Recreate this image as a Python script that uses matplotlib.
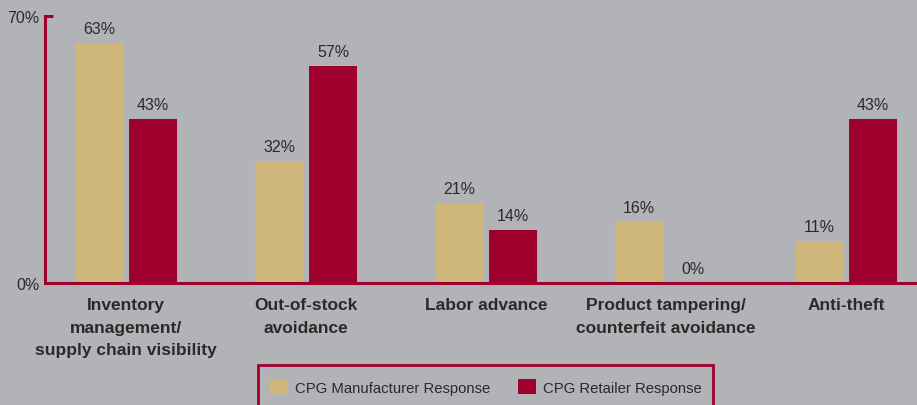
import matplotlib.pyplot as plt
from matplotlib.patches import Rectangle
import numpy as np

categories = ['Inventory\nmanagement/\nsupply chain visibility',
              'Out-of-stock\navoidance',
              'Labor advance',
              'Product tampering/\ncounterfeit avoidance',
              'Anti-theft']
manufacturer = [63, 32, 21, 16, 11]
retailer = [43, 57, 14, 0, 43]
series_names = ['CPG Manufacturer Response', 'CPG Retailer Response']

bg = '#b2b3b7'
tan = '#cfb77b'
red = '#a0002e'
txt = '#2a2a2a'

fig = plt.figure(figsize=(9.17, 4.06), dpi=100, facecolor=bg)
ax = fig.add_axes([45/917, 122/406, 872/917, 267/406])
ax.set_facecolor(bg)

x = np.arange(len(categories))
w = 0.267
off = 0.15
b1 = ax.bar(x - off, manufacturer, w, color=tan, label=series_names[0])
b2 = ax.bar(x + off, retailer, w, color=red, label=series_names[1])

for bars, vals in ((b1, manufacturer), (b2, retailer)):
    for rect, v in zip(bars, vals):
        ax.annotate(f'{v}%', (rect.get_x() + rect.get_width()/2, v),
                    xytext=(0, 5), textcoords='offset points',
                    ha='center', va='bottom', fontsize=11.5, color=txt,
                    family='Liberation Sans')

ax.set_xlim(-0.45, 4.394)
ax.set_ylim(0, 70)
ax.set_yticks([0, 70])
ax.set_yticklabels(['0%', '70%'], fontsize=11.5, color=txt, family='Liberation Sans')
ax.tick_params(axis='y', length=0, pad=4)
ax.set_xticks(x)
ax.set_xticklabels(categories, fontsize=12.5, fontweight='bold', color=txt,
                   family='Liberation Sans', linespacing=1.65)
ax.tick_params(axis='x', length=0, pad=10)

for s in ['top', 'right']:
    ax.spines[s].set_visible(False)
for s in ['left', 'bottom']:
    ax.spines[s].set_color(red)
    ax.spines[s].set_linewidth(2.2)
# small tick at top of the axis
ax.plot([-0.45, -0.45 + 8/180], [70, 70], color=red, lw=2.2, clip_on=False,
        solid_capstyle='butt')

# legend box
fig.patches.append(Rectangle((258/917, -0.05), (713-258)/917, 0.05 + 40/406,
                             transform=fig.transFigure, facecolor='none',
                             edgecolor=red, linewidth=2))
leg = fig.legend(handles=[b1, b2], loc='center', bbox_to_anchor=(486/917, 18/406),
                 ncol=2, frameon=False, handlelength=1.2,
                 handleheight=1.2, handletextpad=0.47, columnspacing=1.9,
                 prop={'family': 'Liberation Sans', 'size': 10.7})
for t in leg.get_texts():
    t.set_color(txt)

fig.savefig('out.png', dpi=100, facecolor=bg)
